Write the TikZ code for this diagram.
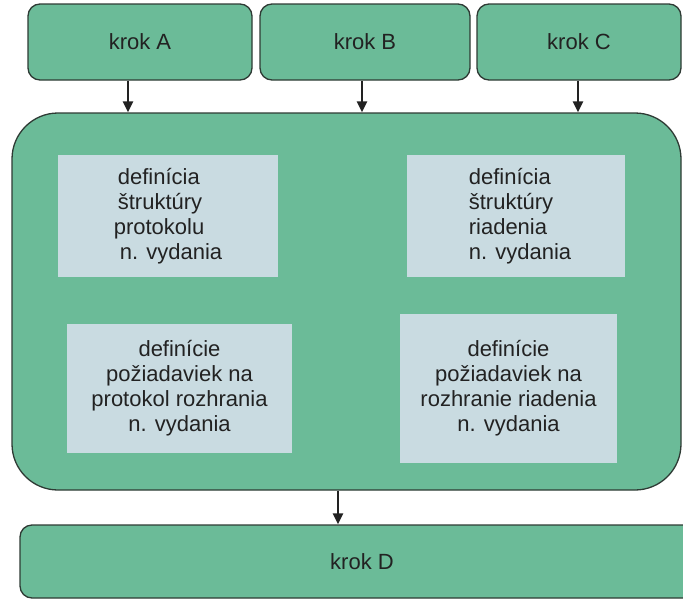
\documentclass[tikz,border=0pt]{standalone}
\usepackage{fontspec}
\setmainfont{Liberation Sans}
\usetikzlibrary{arrows.meta}
\definecolor{stepgreen}{HTML}{6BBB98}
\definecolor{panelgray}{HTML}{C9DBE1}
\definecolor{edgegray}{HTML}{2E3A34}
\definecolor{inkgray}{HTML}{222222}
\tikzset{
  stepbox/.style={draw=edgegray, line width=1.3pt, fill=stepgreen, rounded corners=12pt,
    inner sep=0pt, text=inkgray, font=\fontsize{22}{25}\selectfont},
  groupbox/.style={draw=edgegray, line width=1.3pt, fill=stepgreen, rounded corners=46pt,
    inner sep=0pt},
  panel/.style={fill=panelgray, inner sep=0pt, text=inkgray,
    font=\fontsize{22}{25}\selectfont},
  flow/.style={draw=inkgray, line width=2.6pt, -{Triangle[width=10pt,length=11pt]}}
}
\begin{document}
\begin{tikzpicture}[x=1pt,y=-1pt]
  \useasboundingbox (0,0) rectangle (683,600);
  \clip (0,0) rectangle (683,600);

  % input steps
  \node[stepbox, minimum width=224pt, minimum height=76pt] (A) at (140,42) {krok A};
  \node[stepbox, minimum width=210pt, minimum height=76pt] (B) at (365,42) {krok B};
  \node[stepbox, minimum width=204pt, minimum height=76pt] (C) at (579,42) {krok C};

  % grouping block
  \node[groupbox, minimum width=669pt, minimum height=377pt] (G) at (346.5,301.5) {};

  % definitions inside the block
  \node[panel, minimum width=220pt, minimum height=122pt, align=left] (P1) at (168,216)
    {\hspace*{4pt}definícia\\\hspace*{4pt}štruktúry\\protokolu\\\hspace*{6pt}n. vydania};
  \node[panel, minimum width=218pt, minimum height=122pt, align=left] (P2) at (516,216)
    {\hspace*{8pt}definícia\\\hspace*{8pt}štruktúry\\\hspace*{8pt}riadenia\\\hspace*{8pt}n. vydania};
  \node[panel, minimum width=225pt, minimum height=129pt, align=center] (P3) at (179.5,388.5)
    {definície\\požiadaviek na\\protokol rozhrania\\n. vydania};
  \node[panel, minimum width=217pt, minimum height=149pt, align=center] (P4) at (508.5,388.5)
    {definície\\požiadaviek na\\rozhranie riadenia\\n. vydania};

  % output step
  \node[stepbox, minimum width=684pt, minimum height=73pt] (D) at (362,561.5) {krok D};

  % connectors
  \draw[flow] (A.south -| 128,0) -- (G.north -| 128,0);
  \draw[flow] (B.south -| 362,0) -- (G.north -| 362,0);
  \draw[flow] (C.south -| 578,0) -- (G.north -| 578,0);
  \draw[flow] (G.south -| 338,0) -- (D.north -| 338,0);
\end{tikzpicture}
\end{document}
